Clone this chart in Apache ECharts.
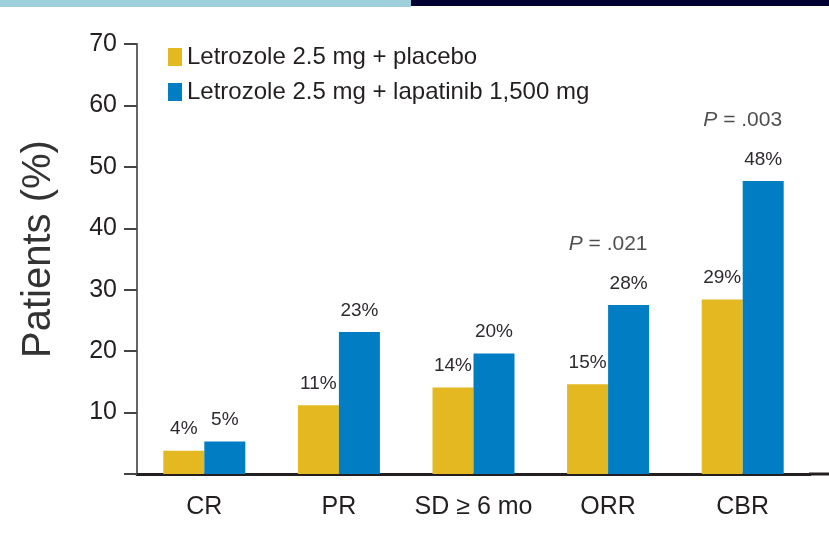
<!DOCTYPE html>
<html>
<head>
<meta charset="utf-8">
<script src="https://cdn.jsdelivr.net/npm/echarts@6/dist/echarts.min.js"></script>
<style>
html,body{margin:0;padding:0;background:#fff;}
#chart{width:829px;height:535px;}
</style>
</head>
<body>
<div id="chart"></div>
<script>
const categories = ['CR', 'PR', 'SD ≥ 6 mo', 'ORR', 'CBR'];
const seriesNames = ['Letrozole 2.5 mg + placebo', 'Letrozole 2.5 mg + lapatinib 1,500 mg'];
const placebo = [3.8, 11.2, 14.1, 14.6, 28.4];
const lapatinib = [5.3, 23.1, 19.6, 27.5, 47.7];
const placeboLabels = ['4%', '11%', '14%', '15%', '29%'];
const lapatinibLabels = ['5%', '23%', '20%', '28%', '48%'];
const pValues = ['', '', '', '.021', '.003'];
const yMin = 0, yMax = 70, yStep = 10;

const FONT = "'Liberation Sans', Arial, Helvetica, sans-serif";
const TEXT = '#231f20';

const chart = echarts.init(document.getElementById('chart'), null, {renderer: 'canvas'});
chart.setOption({
  backgroundColor: '#ffffff',
  animation: false,
  graphic: [
    {type: 'rect', shape: {x: 0, y: 0, width: 411, height: 7}, style: {fill: '#9dd0da'}},
    {type: 'rect', shape: {x: 411, y: 0, width: 418, height: 6}, style: {fill: '#000033'}},
    {type: 'line', shape: {x1: 809, y1: 474, x2: 829, y2: 474}, style: {stroke: TEXT, lineWidth: 3}}
  ],
  grid: {left: 137, right: 19, top: 44, bottom: 61, containLabel: false},
  legend: {
    orient: 'vertical',
    left: 163, top: 40,
    itemWidth: 14, itemHeight: 18, itemGap: 11,
    icon: 'rect',
    data: seriesNames,
    textStyle: {fontFamily: FONT, fontSize: 24, color: TEXT}
  },
  xAxis: {
    type: 'category',
    data: categories,
    boundaryGap: true,
    axisLine: {lineStyle: {color: TEXT, width: 3}},
    axisTick: {length: 10, lineStyle: {color: TEXT, width: 3}},
    axisLabel: {interval: 0, fontFamily: FONT, fontSize: 25, color: TEXT, margin: 21}
  },
  yAxis: {
    type: 'value',
    min: yMin, max: yMax, interval: yStep,
    name: 'Patients (%)',
    nameLocation: 'middle',
    nameGap: 78,
    nameTextStyle: {fontFamily: FONT, fontSize: 40, color: '#333', padding: [0, 0, 0, 20]},
    splitLine: {show: false},
    axisLine: {show: true, lineStyle: {color: '#666', width: 2}},
    axisTick: {show: true, length: 13, lineStyle: {color: '#444', width: 2}},
    axisLabel: {
      fontFamily: FONT, fontSize: 25, color: TEXT, margin: 20,
      formatter: v => (v === 0 ? '' : String(v))
    }
  },
  series: [
    {
      name: seriesNames[0], type: 'bar', data: placebo,
      barWidth: 41, barGap: '0%',
      itemStyle: {color: '#e3b820'},
      label: {
        show: true, position: 'top', distance: 12,
        fontFamily: FONT, fontSize: 19, color: '#2e2a30',
        formatter: p => placeboLabels[p.dataIndex]
      }
    },
    {
      name: seriesNames[1], type: 'bar', data: lapatinib,
      barWidth: 41, barGap: '0%',
      itemStyle: {color: '#007dc3'},
      label: {
        show: true, position: 'top', distance: 12,
        fontFamily: FONT, fontSize: 19, color: '#2e2a30',
        formatter: p => lapatinibLabels[p.dataIndex]
      }
    },
    {
      name: 'P', type: 'scatter', data: lapatinib,
      symbolSize: 0, silent: true,
      label: {
        show: true, position: 'top', distance: 50,
        fontFamily: FONT, fontSize: 21, color: TEXT,
        formatter: p => pValues[p.dataIndex] ? '{i|P} = ' + pValues[p.dataIndex] : '',
        rich: {i: {fontStyle: 'italic', fontFamily: FONT, fontSize: 21, color: TEXT}}
      }
    }
  ]
});
</script>
</body>
</html>
